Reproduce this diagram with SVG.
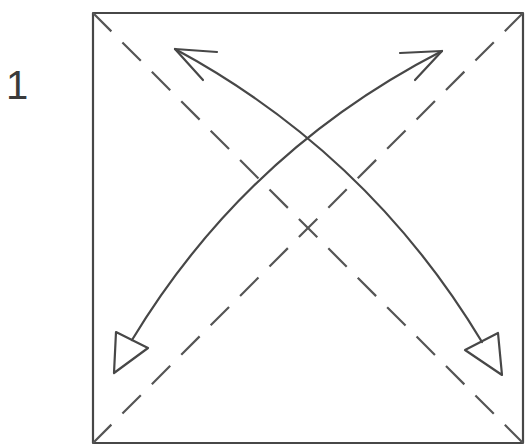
<svg xmlns="http://www.w3.org/2000/svg" width="527" height="448" viewBox="0 0 527 448">
<style>
.ln{fill:none;stroke:#474747;stroke-width:2.2;stroke-linecap:round;stroke-linejoin:round}
.dash{fill:none;stroke:#555555;stroke-width:2.2;stroke-dasharray:26 15.6}
.lbl{font-family:"Liberation Sans",Arial,sans-serif;font-size:40px;fill:#3a3a3a}
</style>
<rect width="527" height="448" fill="#ffffff"/>
<g id="label"><text class="lbl" x="6" y="99">1</text></g>
<g id="paper">
<rect class="ln" x="93" y="13" width="430" height="430" stroke-width="2.5"/>
</g>
<g id="creases">
<line class="dash" x1="93" y1="13" x2="523" y2="443"/>
<line class="dash" x1="93" y1="443" x2="523" y2="13"/>
</g>
<g id="connectors">
<g id="arrow-a">
<path class="ln" d="M175,49 Q368.5,153.5 482,342"/>
<polyline class="ln" points="217,52 175,49 203,80"/>
<polygon class="ln" points="465,350 498,333 502,375"/>
</g>
<g id="arrow-b">
<path class="ln" d="M442,51 Q246,151.6 132,340"/>
<polyline class="ln" points="400,53 442,51 415,80"/>
<polygon class="ln" points="116,332 148,348 114,373"/>
</g>
</g>
</svg>
